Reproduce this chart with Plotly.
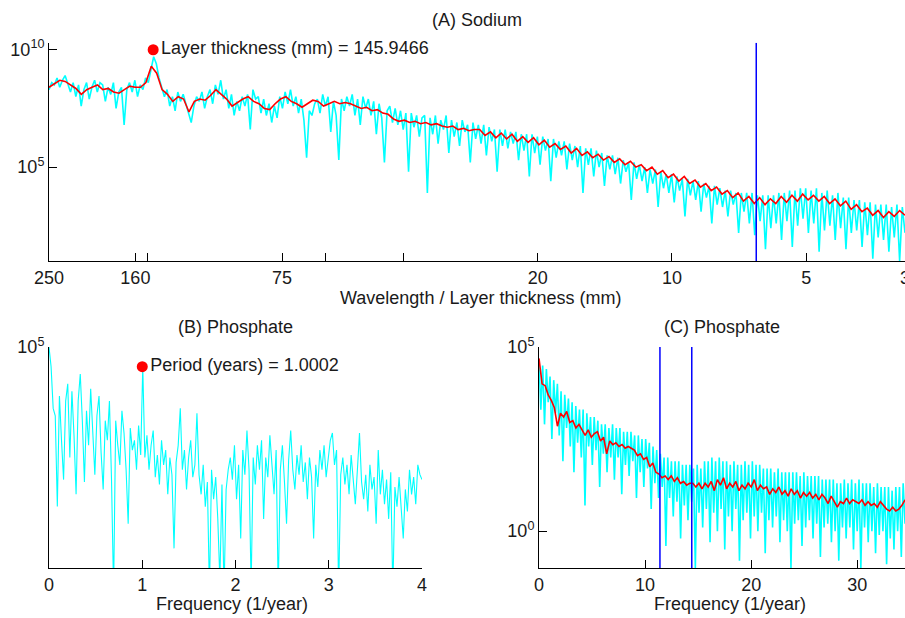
import numpy as np
import plotly.graph_objects as go

# (A) Sodium: power spectrum against wavelength / layer thickness (mm), values are log10(power)
a_raw_log = [
    8.3, 8.6, 8.5, 8.8, 8.4, 8.7, 8.9, 8.5, 8.2, 8.6,
    8.0, 8.5, 7.6, 8.3, 8.6, 7.9, 8.4, 8.7, 8.2, 8.6,
    8.5, 7.8, 8.4, 8.1, 8.6, 7.5, 8.2, 8.4, 6.8, 8.3,
    8.6, 8.2, 8.7, 8.0, 8.5, 8.3, 8.8, 8.6, 9.1, 9.7,
    9.4, 8.8, 8.4, 8.0, 8.3, 7.6, 8.0, 7.4, 8.2, 7.8,
    8.1, 7.7, 7.3, 6.9, 7.6, 8.0, 7.8, 8.2, 7.5, 8.0,
    8.3, 7.7, 8.5, 8.1, 8.7, 7.9, 8.3, 7.5, 8.1, 7.2,
    7.8, 7.4, 8.0, 7.6, 8.1, 6.6, 8.3, 7.9, 8.0, 7.3,
    7.9, 7.2, 7.7, 6.9, 7.6, 7.1, 8.0, 7.5, 8.2, 7.7,
    8.3, 7.6, 8.0, 7.3, 7.9, 7.0, 5.4, 7.4, 7.2, 7.7,
    7.9, 7.3, 8.1, 7.6, 8.0, 6.5, 7.8, 7.2, 5.3, 7.9,
    7.4, 8.0, 7.6, 8.1, 7.2, 7.9, 6.8, 8.0, 7.5, 7.9,
    7.2, 7.8, 6.4, 7.7, 7.1, 5.2, 7.4, 7.6, 6.9, 7.5,
    6.8, 7.4, 6.6, 7.3, 4.8, 7.3, 6.7, 7.2, 6.3, 7.1,
    7.2, 3.9, 7.1, 6.4, 7.2, 6.0, 7.0, 6.6, 7.2, 5.6,
    7.0, 6.3, 6.9, 5.9, 7.0, 6.5, 6.8, 5.2, 6.9, 6.2,
    6.8, 6.0, 6.8, 5.5, 6.7, 6.1, 6.6, 4.8, 6.6, 5.9,
    6.6, 5.8, 6.5, 6.0, 6.5, 5.3, 6.4, 5.7, 6.4, 4.6,
    6.4, 5.6, 6.3, 5.1, 6.3, 5.7, 6.2, 4.4, 6.2, 5.4,
    6.1, 5.5, 6.1, 4.9, 6.0, 5.3, 5.9, 5.0, 5.9, 3.9,
    5.8, 5.1, 5.8, 4.6, 5.7, 5.0, 5.6, 4.2, 5.5, 4.9,
    5.5, 4.7, 5.4, 4.3, 5.3, 4.8, 5.2, 3.6, 5.2, 4.5,
    5.1, 4.4, 5.0, 3.9, 4.9, 4.3, 4.9, 3.3, 4.8, 4.1,
    4.7, 3.9, 4.7, 3.5, 4.6, 4.0, 4.5, 2.9, 4.5, 3.8,
    4.4, 3.6, 4.4, 3.1, 4.3, 3.7, 4.2, 2.6, 4.2, 3.4,
    4.1, 3.3, 4.0, 2.9, 4.0, 3.4, 3.9, 2.2, 3.9, 3.1,
    3.9, 2.6, 3.9, 2.1, 3.8, 2.7, 3.8, 1.5, 3.8, 2.4,
    3.8, 2.6, 3.9, 1.9, 3.9, 2.7, 4.0, 1.6, 4.0, 2.5,
    4.1, 2.8, 4.1, 2.2, 4.0, 2.6, 4.1, 1.4, 3.9, 2.3,
    4.0, 2.5, 3.8, 1.9, 3.9, 2.4, 3.7, 1.5, 3.7, 2.2,
    3.6, 2.3, 3.6, 1.6, 3.5, 2.1, 3.5, 1.1, 3.4, 2.0,
    3.4, 1.9, 3.4, 1.4, 3.3, 2.0, 3.4, 1.0, 3.3, 2.2,
]
a_smooth_log = [
    8.4, 8.55, 8.7, 8.65, 8.5, 8.35, 8.1, 8.3, 8.4, 8.5,
    8.3, 8.35, 8.2, 8.15, 8.3, 8.45, 8.4, 8.4, 8.6, 9.3,
    9.0, 8.3, 8.1, 7.8, 8.0, 7.9, 7.35, 7.8, 7.9, 7.85,
    8.05, 8.3, 8.1, 7.9, 7.6, 7.75, 7.9, 8.0, 7.8, 7.7,
    7.5, 7.45, 7.7, 7.9, 8.0, 7.8, 7.7, 7.55, 7.7, 7.85,
    7.8, 7.6, 7.7, 7.8, 7.7, 7.75, 7.7, 7.6, 7.5, 7.55,
    7.4, 7.45, 7.3, 7.25, 7.05, 6.95, 7.0, 6.9, 6.95, 6.85,
    6.9, 6.8, 6.85, 6.75, 6.7, 6.75, 6.6, 6.65, 6.55, 6.6,
    6.6, 6.35, 6.5, 6.25, 6.45, 6.2, 6.4, 6.1, 6.3, 6.05,
    6.25, 5.95, 6.15, 5.85, 6.0, 5.75, 5.9, 5.6, 5.8, 5.5,
    5.65, 5.4, 5.55, 5.3, 5.45, 5.2, 5.35, 5.1, 5.25, 5.0,
    5.1, 4.85, 5.0, 4.7, 4.85, 4.55, 4.7, 4.4, 4.6, 4.3,
    4.45, 4.15, 4.3, 4.0, 4.15, 3.85, 4.0, 3.7, 3.9, 3.55,
    3.75, 3.45, 3.7, 3.4, 3.65, 3.45, 3.75, 3.5, 3.8, 3.55,
    3.85, 3.6, 3.8, 3.55, 3.75, 3.45, 3.65, 3.35, 3.55, 3.2,
    3.4, 3.1, 3.25, 2.95, 3.15, 2.85, 3.1, 2.9, 3.15, 2.95,
]
a_peak_mm = 145.9466
a_peak_power = 1e10
a_cutoff_mm = 6.47
a_ticks = [250, 160, 150, 75, 60, 40, 20, 10, 5, 3]
a_ticklabels = ["250", "160", "", "75", "", "", "20", "10", "5", "3"]

# (B) Phosphate, annual band, log10(power)
b_raw_log = [
    5.0, 4.92, 4.75, 4.72, 4.35, 4.80, 4.62, 4.46, 4.78, 4.85, 4.55,
    4.82, 4.64, 4.40, 4.78, 4.89, 4.70, 4.45, 4.74, 4.60, 4.83,
    4.66, 4.48, 4.72, 4.80, 4.57, 4.42, 4.70, 4.62, 4.78, 4.46,
    4.0, 4.70, 4.60, 4.52, 4.74, 4.65, 4.50, 4.28, 4.67, 4.58,
    4.62, 4.50, 4.68, 4.56, 4.92,
    4.55, 4.64, 4.50, 4.60, 4.66, 4.47, 4.56, 4.44, 4.62, 4.52, 4.58, 4.40, 4.55, 4.48, 4.18, 4.53, 4.60,
    4.75, 4.50, 4.58, 4.42, 4.55, 4.62, 4.47, 4.52, 4.73,
    4.48, 4.40, 4.52, 4.35, 4.45, 4.0, 4.50, 4.38, 4.47, 4.30, 4.05, 4.44, 4.0, 4.42, 4.50,
    4.55, 4.46, 4.60, 4.38, 4.52, 4.22, 4.58, 4.48, 4.66, 4.50, 4.02, 4.55, 4.44, 4.60,
    4.50, 4.62, 4.30, 4.55, 4.47, 4.64, 4.52, 4.40, 4.58, 4.0, 4.50, 4.60, 4.45, 4.28, 4.54,
    4.66, 4.50, 4.42, 4.56, 4.48, 4.60, 4.45, 4.53, 4.38, 4.55, 4.47, 4.22, 4.52, 4.43, 4.58,
    4.50, 4.60, 4.47, 4.55, 4.62, 4.65, 4.52, 4.58, 4.0, 4.48, 4.55, 4.44,
    4.52, 4.40, 4.56, 4.46, 4.36, 4.50, 4.65, 4.45,
    4.38, 4.48, 4.33, 4.52, 4.42, 4.47, 4.28, 4.58, 4.40, 4.50,
    4.36, 4.46, 4.30, 4.49, 4.0, 4.43, 4.35, 4.47, 4.32, 4.22,
    4.42, 4.33, 4.50, 4.40, 4.47, 4.36, 4.52, 4.48, 4.46,
]
b_peak_freq = 1.0002
b_peak_log = 4.92

# (C) Phosphate, full band, log10(power)
c_raw_log = [
    4.6, 3.3, 4.5, 2.9, 4.4, 3.5, 4.2, 2.5, 4.1, 3.2,
    4.0, 2.6, 3.8, 1.9, 3.7, 2.8, 3.6, 2.3, 3.5, 1.6,
    3.4, 2.4, 3.3, 2.0, 3.3, 0.7, 3.2, 2.3, 3.1, 1.8,
    3.1, 2.2, 3.0, 1.2, 2.9, 2.1, 2.9, 1.6, 2.8, 2.0,
    2.9, 1.4, 2.8, 2.0, 2.8, 1.0, 2.7, 1.8, 2.7, 1.5,
    2.7, 1.9, 2.6, 0.9, 2.6, 1.6, 2.5, 1.2, 2.5, 1.7,
    2.4, 0.6, 2.3, 1.3, 2.2, 0.9, 2.1, 1.2, 2.0, -0.4,
    2.0, 0.9, 1.9, 0.4, 1.9, 0.8, 1.9, -0.2, 1.8, 0.7,
    1.8, 0.3, 1.8, 0.8, 1.7, -1.0, 1.8, 0.5, 1.7, 0.1,
    1.9, 0.6, 1.9, -0.3, 2.0, 0.5, 1.9, 0.0, 2.0, 0.6,
    1.9, -0.5, 1.9, 0.4, 1.8, 0.0, 1.9, 0.6, 1.8, -0.8,
    1.8, 0.3, 1.9, 0.5, 1.8, -0.2, 1.9, 0.4, 1.8, 0.0,
    1.8, 0.5, 1.7, -0.6, 1.7, 0.3, 1.7, 0.1, 1.6, 0.4,
    1.7, -0.3, 1.6, 0.3, 1.6, 0.0, 1.6, -1.0, 1.6, 0.2,
    1.6, 0.3, 1.5, -0.4, 1.6, 0.1, 1.5, 0.3, 1.5, -0.2,
    1.5, 0.2, 1.5, -0.7, 1.4, 0.1, 1.4, 0.2, 1.4, -0.3,
    1.4, 0.0, 1.3, -0.8, 1.3, 0.1, 1.4, -0.2, 1.3, 0.1,
    1.4, -0.5, 1.3, 0.0, 1.4, -1.0, 1.3, 0.1, 1.3, -0.3,
    1.3, 0.0, 1.2, -0.6, 1.3, -0.1, 1.2, 0.0, 1.2, -0.9,
    1.2, -0.2, 1.1, -0.5, 1.2, 0.0, 1.2, -0.7, 1.3, 0.2,
]
c_smooth_log = [
    4.69, 4.0, 3.95, 3.7, 3.55, 3.35, 2.85, 3.2, 3.1, 3.25,
    2.95, 3.0, 2.8, 2.9, 2.75, 2.6, 2.75, 2.55, 2.65, 2.7,
    2.45, 2.55, 2.1, 2.45, 2.35, 2.4, 2.3, 2.35, 2.25, 2.3,
    2.25, 2.2, 2.05, 2.1, 1.95, 2.0, 1.75, 1.85, 1.6, 1.55,
    1.45, 1.5, 1.4, 1.5, 1.35, 1.45, 1.3, 1.35, 1.25, 1.3,
    1.3, 1.2, 1.3, 1.15, 1.3, 1.2, 1.35, 1.1, 1.4, 1.25,
    1.45, 1.15, 1.3, 1.2, 1.35, 1.1, 1.25, 1.15, 1.3, 1.2,
    1.4, 1.1, 1.25, 1.15, 1.2, 1.0, 1.15, 1.05, 1.2, 1.0,
    1.1, 0.95, 1.15, 1.0, 1.1, 0.9, 1.05, 0.95, 1.05, 0.9,
    1.0, 0.85, 1.0, 0.9, 0.75, 0.95, 0.8, 0.65, 0.8, 0.75,
    0.9, 0.75, 0.85, 0.8, 0.75, 0.85, 0.7, 0.8, 0.7, 0.75,
    0.65, 0.8, 0.7, 0.6, 0.55, 0.65, 0.55, 0.6, 0.7, 0.85,
]
c_cutoffs = [11.4, 14.4]

# frequency / wavelength bins
a_wl_raw = np.geomspace(250, 3, len(a_raw_log))
a_wl_smooth = np.geomspace(250, 3, len(a_smooth_log))
b_freq = np.linspace(0, 4, len(b_raw_log))
c_freq_raw = np.linspace(0, 34.5, len(c_raw_log))
c_freq_smooth = np.linspace(0, 34.5, len(c_smooth_log))

CYAN = "#00ffff"
RED = "#ff0000"
BLUE = "#0000ff"
FONT = "Liberation Sans, Arial, sans-serif"

fig = go.Figure()

# panel A
fig.add_trace(go.Scatter(x=a_wl_raw, y=10 ** np.array(a_raw_log), mode="lines",
                         line=dict(color=CYAN, width=1.6), xaxis="x", yaxis="y"))
fig.add_trace(go.Scatter(x=a_wl_smooth, y=10 ** np.array(a_smooth_log), mode="lines",
                         line=dict(color=RED, width=1.6), xaxis="x", yaxis="y"))
fig.add_trace(go.Scatter(x=[a_cutoff_mm, a_cutoff_mm], y=[10 ** 1, 10 ** 10.3], mode="lines",
                         line=dict(color=BLUE, width=1.5), xaxis="x", yaxis="y"))
fig.add_trace(go.Scatter(x=[a_peak_mm], y=[a_peak_power], mode="markers+text",
                         marker=dict(color=RED, size=11),
                         text=["Layer thickness (mm) = %.4f" % a_peak_mm],
                         textposition="middle right", textfont=dict(size=18, color="#1a1a1a"),
                         cliponaxis=False, xaxis="x", yaxis="y"))

# panel B
fig.add_trace(go.Scatter(x=b_freq, y=10 ** np.array(b_raw_log), mode="lines",
                         line=dict(color=CYAN, width=1.1), xaxis="x2", yaxis="y2"))
fig.add_trace(go.Scatter(x=[b_peak_freq], y=[10 ** b_peak_log], mode="markers+text",
                         marker=dict(color=RED, size=11),
                         text=["Period (years) = %.4f" % b_peak_freq],
                         textposition="middle right", textfont=dict(size=18, color="#1a1a1a"),
                         cliponaxis=False, xaxis="x2", yaxis="y2"))

# panel C
fig.add_trace(go.Scatter(x=c_freq_raw, y=10 ** np.array(c_raw_log), mode="lines",
                         line=dict(color=CYAN, width=1.6), xaxis="x3", yaxis="y3"))
fig.add_trace(go.Scatter(x=c_freq_smooth, y=10 ** np.array(c_smooth_log), mode="lines",
                         line=dict(color=RED, width=1.6), xaxis="x3", yaxis="y3"))
for f in c_cutoffs:
    fig.add_trace(go.Scatter(x=[f, f], y=[10 ** -1, 10 ** 5], mode="lines",
                             line=dict(color=BLUE, width=1.5), xaxis="x3", yaxis="y3"))

W, H = 905, 618
ax = dict(showline=True, linecolor="black", linewidth=1, ticks="inside", ticklen=8,
          tickcolor="black", showgrid=False, zeroline=False, mirror=False,
          automargin=False, tickfont=dict(size=18, color="#1a1a1a"))

fig.update_layout(
    width=W, height=H,
    margin=dict(l=0, r=0, t=0, b=0, pad=0),
    paper_bgcolor="white", plot_bgcolor="white",
    showlegend=False,
    font=dict(family=FONT, size=18, color="#1a1a1a"),
    xaxis=dict(ax, domain=[49 / W, 1], anchor="y", type="log",
               range=[np.log10(250), np.log10(3)],
               tickvals=a_ticks, ticktext=a_ticklabels, ticklabeloverflow="allow"),
    yaxis=dict(ax, domain=[(H - 261) / H, (H - 42.7) / H], anchor="x", type="log",
               range=[1, 10.3], tickvals=[1e5, 1e10],
               ticktext=["10<sup>5</sup>", "10<sup>10</sup>"]),
    xaxis2=dict(ax, domain=[49 / W, 422 / W], anchor="y2", range=[0, 4],
                tickvals=[0, 1, 2, 3, 4], ticklabeloverflow="allow"),
    yaxis2=dict(ax, domain=[(H - 568) / H, (H - 347) / H], anchor="x2", type="log",
                range=[4.1, 5.0], tickvals=[1e5], ticktext=["10<sup>5</sup>"]),
    xaxis3=dict(ax, domain=[539 / W, 1], anchor="y3", range=[0, 34.5],
                tickvals=[0, 10, 20, 30], ticklabeloverflow="allow"),
    yaxis3=dict(ax, domain=[(H - 568) / H, (H - 347) / H], anchor="x3", type="log",
                range=[-1, 5], tickvals=[1, 1e5],
                ticktext=["10<sup>0</sup>", "10<sup>5</sup>"]),
)

labels = [
    ("(A) Sodium", 477, 20),
    ("Wavelength / Layer thickness (mm)", 480, 298),
    ("(B) Phosphate", 235.5, 327),
    ("Frequency (1/year)", 232, 604),
    ("(C) Phosphate", 722, 327),
    ("Frequency (1/year)", 730, 604),
]
for txt, px, py in labels:
    fig.add_annotation(text=txt, x=px / W, y=1 - py / H, xref="paper", yref="paper",
                       showarrow=False, xanchor="center", yanchor="middle",
                       font=dict(size=18, color="#1a1a1a"))

# drop the browser's default page margin so the figure sits at the window corner
fig.write_html("out.html", config={"displayModeBar": False},
               post_script="document.body.style.margin = '0';")
